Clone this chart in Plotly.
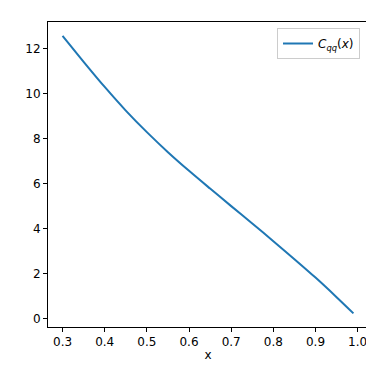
import plotly.graph_objects as go

# values
x_vals = [0.30, 0.35, 0.40, 0.45, 0.50, 0.55, 0.60, 0.65, 0.70, 0.75, 0.80, 0.85, 0.90, 0.95, 0.99]
cqq_vals = [12.58, 11.43, 10.31, 9.26, 8.30, 7.41, 6.58, 5.79, 5.01, 4.24, 3.45, 2.65, 1.83, 0.96, 0.24]

x_ticks = [0.3, 0.4, 0.5, 0.6, 0.7, 0.8, 0.9, 1.0]
y_ticks = [0, 2, 4, 6, 8, 10, 12]

fig = go.Figure()
fig.add_trace(go.Scatter(
    x=x_vals, y=cqq_vals, mode="lines",
    line=dict(color="#1f77b4", width=2, shape="spline", smoothing=0.8),
    name="<i>C</i><sub><i>qq</i></sub>(<i>x</i>)",
))

axis_common = dict(
    showline=True, linecolor="black", linewidth=1, mirror=True,
    ticks="outside", ticklen=4, tickcolor="black", showgrid=False, zeroline=False,
    tickfont=dict(size=12, color="black"),
)
fig.update_xaxes(range=[0.2655, 1.0245], tickvals=x_ticks, ticktext=[f"{t:.1f}" for t in x_ticks],
                 title=dict(text="x", font=dict(size=12, color="black"), standoff=2), **axis_common)
fig.update_yaxes(range=[-0.367, 13.2], tickvals=y_ticks, **axis_common)

fig.update_layout(
    width=374, height=374,
    margin=dict(l=39.5, r=14, t=14, b=55),
    plot_bgcolor="white", paper_bgcolor="white",
    font=dict(family="DejaVu Sans", color="black"),
    showlegend=True,
    legend=dict(x=1 - 8 / 320.5, y=1 - 6 / 305, xanchor="right", yanchor="top",
                bordercolor="#cccccc", borderwidth=1, bgcolor="white",
                font=dict(size=12)),
)

fig.write_html("out.html")
